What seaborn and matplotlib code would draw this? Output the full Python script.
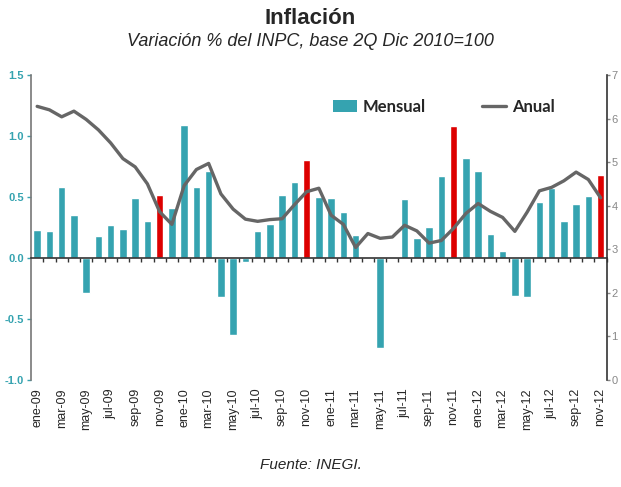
import seaborn as sns
import matplotlib.pyplot as plt
import matplotlib.ticker as mticker
from matplotlib.patches import Patch
from matplotlib.lines import Line2D
import numpy as np
import pandas as pd

meses = ["ene", "feb", "mar", "abr", "may", "jun", "jul", "ago", "sep", "oct", "nov", "dic"]
periodos = [f"{m}-{y}" for y in ["09", "10", "11", "12"] for m in meses][:47]

mensual = [0.23, 0.22, 0.58, 0.35, -0.29, 0.18, 0.27, 0.24, 0.49, 0.30, 0.52, 0.41,
           1.09, 0.58, 0.71, -0.32, -0.63, -0.03, 0.22, 0.28, 0.52, 0.62, 0.80, 0.50,
           0.49, 0.38, 0.19, -0.01, -0.74, 0.00, 0.48, 0.16, 0.25, 0.67, 1.08, 0.82,
           0.71, 0.20, 0.06, -0.31, -0.32, 0.46, 0.57, 0.30, 0.44, 0.51, 0.68]
anual = [6.28, 6.20, 6.04, 6.17, 5.98, 5.74, 5.44, 5.08, 4.89, 4.50, 3.86, 3.57,
         4.46, 4.83, 4.97, 4.27, 3.92, 3.69, 3.64, 3.68, 3.70, 4.02, 4.32, 4.40,
         3.78, 3.57, 3.04, 3.36, 3.25, 3.28, 3.55, 3.42, 3.14, 3.20, 3.48, 3.82,
         4.05, 3.87, 3.73, 3.41, 3.85, 4.34, 4.42, 4.57, 4.77, 4.60, 4.18]

TEAL = "#35a3b0"
RED = "#dd0000"
GRAY = "#666666"

df = pd.DataFrame({"periodo": periodos, "mensual": mensual, "anual": anual})
colores = {p: (RED if p.startswith("nov") else TEAL) for p in periodos}

sns.set_style("white")
plt.rcParams["font.family"] = ["Liberation Sans", "DejaVu Sans"]

fig = plt.figure(figsize=(6.21, 4.87), dpi=100)
ax = fig.add_axes([0.050, 0.220, 0.927, 0.626])

sns.barplot(data=df, x="periodo", y="mensual", hue="periodo", palette=colores,
            width=0.6, legend=False, ax=ax, saturation=1)
ax.set_xlim(-0.5, len(periodos) - 0.5)
ax.set_ylim(-1.0, 1.5)
ax.yaxis.set_major_locator(mticker.MultipleLocator(0.5))
ax.yaxis.set_major_formatter(mticker.FormatStrFormatter("%.1f"))
ax.tick_params(axis="y", colors=TEAL, labelsize=8, length=3, width=1, pad=2,
               direction="out", left=True)
for t in ax.get_yticklabels():
    t.set_fontweight("bold")
    t.set_color(TEAL)
ax.set_xlabel("")
ax.set_ylabel("")

# zero line with category ticks
for s in ["top", "right"]:
    ax.spines[s].set_visible(False)
ax.spines["left"].set_color("#777777")
ax.spines["left"].set_linewidth(1.2)
ax.spines["bottom"].set_position(("data", 0))
ax.spines["bottom"].set_color("#333333")
ax.spines["bottom"].set_linewidth(1.2)
ax.set_xticks(np.arange(len(periodos)) + 0.5)
ax.tick_params(axis="x", bottom=True, length=3, width=1, color="#333333", labelbottom=False)

sec = ax.secondary_xaxis("bottom")
sec.set_xticks(np.arange(0, len(periodos), 2))
sec.set_xticklabels(periodos[::2], rotation=90, fontsize=9)
sec.tick_params(length=0, pad=6)
sec.spines["bottom"].set_visible(False)

ax2 = ax.twinx()
sns.lineplot(x=np.arange(len(periodos)), y=df["anual"], color=GRAY, linewidth=2.4, ax=ax2)
ax2.set_ylim(0, 7)
ax2.yaxis.set_major_locator(mticker.MultipleLocator(1))
ax2.tick_params(axis="y", colors="#888888", labelsize=8, length=2.5, width=1, pad=1,
                direction="out", right=True)
ax2.set_ylabel("")
for s in ["top", "left", "bottom"]:
    ax2.spines[s].set_visible(False)
ax2.spines["right"].set_color("#333333")
ax2.spines["right"].set_linewidth(1.2)

handles = [Patch(facecolor=TEAL, edgecolor="none"),
           Line2D([0], [0], color=GRAY, linewidth=2.4)]
leg = ax2.legend(handles, ["Mensual", "Anual"], loc="center", bbox_to_anchor=(0.717, 0.895),
                 ncol=2, frameon=False, columnspacing=3.4, handlelength=1.45, handletextpad=0.35,
                 prop={"family": "Lato", "size": 12, "weight": "bold"})

fig.text(0.5, 0.962, "Inflación", ha="center", va="center", fontsize=16, fontweight="bold")
fig.text(0.5, 0.914, "Variación % del INPC, base 2Q Dic 2010=100", ha="center", va="center",
         fontsize=13, style="italic")
fig.text(0.5, 0.045, "Fuente: INEGI.", ha="center", va="center", fontsize=11, style="italic")

fig.savefig("out.png", dpi=100)
